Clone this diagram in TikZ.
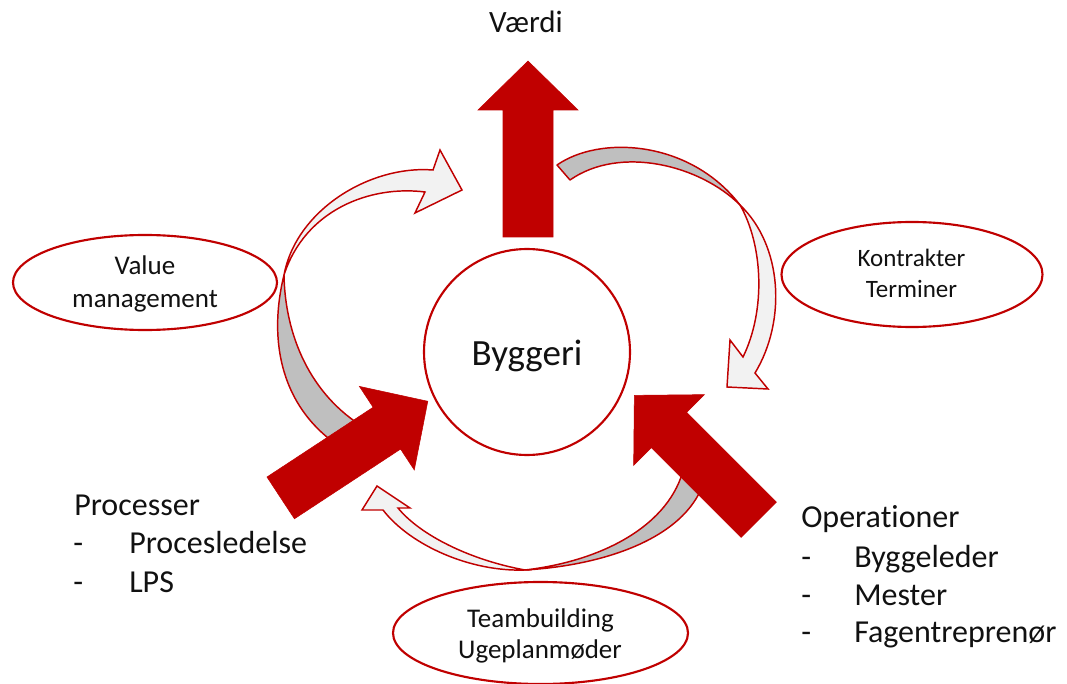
\documentclass[tikz,border=0pt]{standalone}
\usepackage{fontspec}
\setmainfont{Carlito}[Ligatures={NoCommon}]
\usetikzlibrary{shapes.geometric}
\definecolor{myred}{HTML}{C00000}
\definecolor{lightg}{HTML}{F2F2F2}
\definecolor{darkg}{HTML}{BFBFBF}
\definecolor{txtc}{HTML}{111111}
\newcommand\myblockarrow{(-25,0) -- (-25,-127) -- (-50,-127) -- (0,-176) -- (50,-127) -- (25,-127) -- (25,0) -- cycle}
\begin{document}
\begin{tikzpicture}[x=0.75pt,y=-0.75pt,
  blockarrow/.style={fill=myred, draw=myred, line width=0.4pt, line join=miter},
  ribbonfront/.style={fill=lightg, draw=myred, line width=1.1pt, line join=miter},
  ribbonback/.style={fill=darkg, draw=myred, line width=1.1pt, line join=round},
  ringshape/.style={draw=myred, line width=1.6pt, fill=white, inner sep=0pt},
  smalltxt/.style={inner sep=0pt, anchor=base, text=txtc, font=\fontsize{20.25}{24}\selectfont},
  smallertxt/.style={inner sep=0pt, anchor=base, text=txtc, font=\fontsize{18.75}{22}\selectfont},
  listtxt/.style={inner sep=0pt, anchor=base west, text=txtc, font=\fontsize{24}{29}\selectfont}]
\useasboundingbox (0,0) rectangle (1067,684);

% ellipses and circle
\node[ringshape, ellipse, minimum width=198pt, minimum height=71.25pt] (vmell) at (145,282.5) {};
\node[ringshape, ellipse, minimum width=195.75pt, minimum height=78.75pt] (ktell) at (912,274.5) {};
\node[ringshape, ellipse, minimum width=221.25pt, minimum height=76.5pt] (tbell) at (540.5,633) {};
\node[ringshape, circle, minimum size=154.5pt] (byg) at (527,352) {};

% left curved arrow
\path[ribbonback] (284,275) .. controls (268,340) and (280,410) .. (345,450) -- (365,428) .. controls (310,395) and (285,335) .. (284,275) -- cycle;
\path[ribbonfront] (284,275) .. controls (296,210) and (370,165) .. (433,170) -- (440,150) -- (462,190) -- (415,213) -- (425,192) .. controls (370,185) and (305,210) .. (284,275) -- cycle;

% right curved arrow
\path[ribbonback] (557,165) .. controls (600,135) and (690,140) .. (740,205) .. controls (700,165) and (620,145) .. (570,180) -- cycle;
\path[ribbonfront] (740,205) .. controls (782,245) and (787,320) .. (755,373) -- (768,389) -- (727,387) -- (730,340) -- (743,357) .. controls (766,310) and (763,245) .. (740,205) -- cycle;

% bottom curved arrow
\path[ribbonback] (705,478) .. controls (690,535) and (610,565) .. (525,570) .. controls (610,560) and (675,520) .. (685,462) -- cycle;
\path[ribbonfront] (525,570) .. controls (470,572) and (410,545) .. (383,510) -- (362,510) -- (377,486) -- (410,508) -- (398,508) .. controls (420,535) and (470,560) .. (525,570) -- cycle;

% red block arrows
\begin{scope}[shift={(528,237)}]
  \path[blockarrow] \myblockarrow;
\end{scope}
\begin{scope}[shift={(280.7,497.9)}, rotate=-56.7]
  \path[blockarrow] \myblockarrow;
\end{scope}
\begin{scope}[shift={(758.8,519.8)}, rotate=45]
  \path[blockarrow] \myblockarrow;
\end{scope}

% texts
\node[inner sep=0pt, anchor=base, text=txtc, font=\fontsize{23.25}{28}\selectfont] (vaerdi) at (526,33) {Værdi};
\node[inner sep=0pt, anchor=base, text=txtc, font=\fontsize{27.75}{33}\selectfont] (bygtxt) at (527,365) {Byggeri};

\node[smalltxt] (vm1) at (145,275) {Value};
\node[smalltxt] (vm2) at (145,307) {management};
\node[smallertxt] (kt1) at (911.5,267) {Kontrakter};
\node[smallertxt] (kt2) at (911.5,297) {Terminer};
\node[smalltxt] (tb1) at (540.5,627) {Teambuilding};
\node[smalltxt] (tb2) at (540,658) {Ugeplanmøder};

\node[listtxt] (proc) at (74,515) {Processer};
\node[listtxt] (pd1) at (73,553) {-};
\node[listtxt] (pl1) at (129,553) {Procesledelse};
\node[listtxt] (pd2) at (73,592) {-};
\node[listtxt] (pl2) at (129,592) {LPS};

\node[listtxt] (oper) at (801,527) {Operationer};
\node[listtxt] (od1) at (801,567) {-};
\node[listtxt] (ol1) at (854,567) {Byggeleder};
\node[listtxt] (od2) at (801,605) {-};
\node[listtxt] (ol2) at (854,605) {Mester};
\node[listtxt] (od3) at (801,642) {-};
\node[listtxt] (ol3) at (854,642) {Fagentreprenør};
\end{tikzpicture}
\end{document}
